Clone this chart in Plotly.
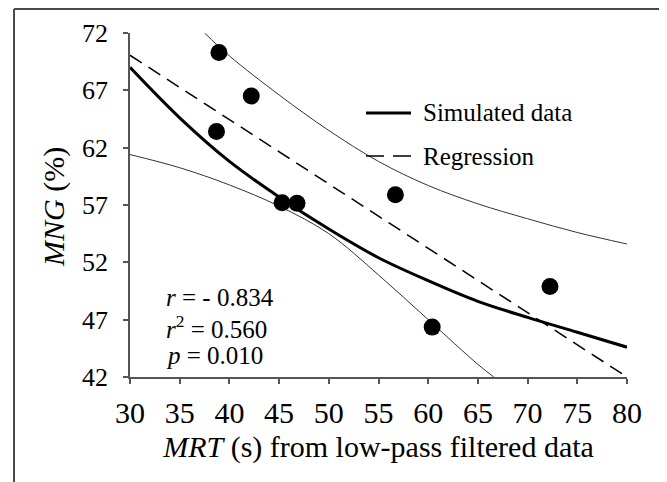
import plotly.graph_objects as go

# Observed data points
mrt = [38.95, 42.2, 38.7, 45.3, 46.8, 56.7, 60.4, 72.25]
mng = [70.3, 66.5, 63.4, 57.2, 57.15, 57.9, 46.35, 49.9]

# Simulated data curve
sim_x = [30, 35, 40, 45, 50, 55, 60, 65, 70, 75, 80]
sim_y = [69.0, 64.6, 60.8, 57.7, 54.9, 52.4, 50.4, 48.6, 47.2, 45.9, 44.6]

# Regression line
reg_x = [30, 80]
reg_y = [70.06, 42.0]

# Upper band
up_x = [37.5, 40, 45, 50, 55, 60, 65, 70, 75, 80]
up_y = [72.0, 70.0, 66.6, 63.5, 60.8, 58.7, 57.1, 55.8, 54.6, 53.6]

# Lower band
lo_x = [30, 35, 40, 45, 50, 55, 60, 65, 66.6]
lo_y = [61.4, 60.25, 58.75, 56.9, 54.5, 50.9, 47.0, 43.1, 42.0]

x_ticks = [30, 35, 40, 45, 50, 55, 60, 65, 70, 75, 80]
y_ticks = [42, 47, 52, 57, 62, 67, 72]

stats = ["<i>r</i> = - 0.834", "<i>r</i><sup>2</sup> = 0.560", "<i>p</i> = 0.010"]
stats_y = [48.95, 46.4, 43.9]

FONT = "'Liberation Serif', 'Times New Roman', Times, 'DejaVu Serif', serif"

fig = go.Figure()
fig.add_trace(go.Scatter(x=up_x, y=up_y, mode="lines", line=dict(color="#333", width=1, shape="spline"),
                         showlegend=False, hoverinfo="skip"))
fig.add_trace(go.Scatter(x=lo_x, y=lo_y, mode="lines", line=dict(color="#333", width=1, shape="spline"),
                         showlegend=False, hoverinfo="skip"))
fig.add_trace(go.Scatter(x=reg_x, y=reg_y, mode="lines", name="Regression",
                         line=dict(color="black", width=1.5, dash="14px,8px"), showlegend=False))
fig.add_trace(go.Scatter(x=sim_x, y=sim_y, mode="lines", name="Simulated data",
                         line=dict(color="black", width=3, shape="spline"), showlegend=False))
fig.add_trace(go.Scatter(x=mrt, y=mng, mode="markers", marker=dict(color="black", size=17),
                         showlegend=False))

OFF = 8  # page body margin offset
W, H = 667 - OFF, 482 - OFF
L, R, T, B = 130 - OFF, 40, 33 - OFF, 105
pw, ph = W - L - R, H - T - B

def px(sx):
    return (sx - OFF - L) / pw

def py(sy):
    return (H - B - (sy - OFF)) / ph

shapes = [
    # outer frame (left and top)
    dict(type="line", xref="paper", yref="paper", x0=px(14), x1=px(14), y0=py(490), y1=py(9),
         line=dict(color="#4a4a4a", width=2)),
    dict(type="line", xref="paper", yref="paper", x0=px(14), x1=px(675), y0=py(9), y1=py(9),
         line=dict(color="#4a4a4a", width=2)),
    # legend samples
    dict(type="line", xref="paper", yref="paper", x0=px(366), x1=px(411), y0=py(113), y1=py(113),
         line=dict(color="black", width=3)),
    dict(type="line", xref="paper", yref="paper", x0=px(366), x1=px(411), y0=py(156), y1=py(156),
         line=dict(color="black", width=1.5, dash="18px,9px")),
]

annotations = [
    dict(text="Simulated data", xref="paper", yref="paper", x=px(421), y=py(113), xanchor="left",
         yanchor="middle", showarrow=False, font=dict(family=FONT, size=25, color="black")),
    dict(text="Regression", xref="paper", yref="paper", x=px(421), y=py(156), xanchor="left",
         yanchor="middle", showarrow=False, font=dict(family=FONT, size=25, color="black")),
    dict(text="<i>MNG</i> (%)", xref="paper", yref="paper", x=px(54), y=py(207), xanchor="center",
         yanchor="middle", textangle=-90, showarrow=False, font=dict(family=FONT, size=30, color="black")),
]
for s, yv in zip(stats, stats_y):
    annotations.append(dict(text=s, x=33.4, y=yv, xref="x", yref="y", xanchor="left", yanchor="middle",
                            showarrow=False, font=dict(family=FONT, size=25, color="black")))

fig.update_layout(
    width=W, height=H,
    margin=dict(l=L, r=R, t=T, b=B),
    paper_bgcolor="white", plot_bgcolor="white",
    font=dict(family=FONT, color="black"),
    shapes=shapes, annotations=annotations,
    showlegend=False,
)
fig.update_xaxes(range=[30, 80], tickvals=x_ticks, showgrid=False, zeroline=False,
                 showline=True, linecolor="#555", linewidth=1.5,
                 ticks="outside", ticklen=5, tickcolor="#555", tickwidth=1.5,
                 tickfont=dict(family=FONT, size=30, color="black"), ticklabelstandoff=3,
                 title=dict(text="<i>MRT</i> (s) from low-pass filtered data",
                            font=dict(family=FONT, size=30, color="black"), standoff=8))
fig.update_yaxes(range=[42, 72], tickvals=y_ticks, showgrid=False, zeroline=False,
                 showline=True, linecolor="#555", linewidth=1.5,
                 ticks="outside", ticklen=5, tickcolor="#555", tickwidth=1.5,
                 tickfont=dict(family=FONT, size=26, color="black"), ticklabelstandoff=10)

fig.write_html("out.html")
